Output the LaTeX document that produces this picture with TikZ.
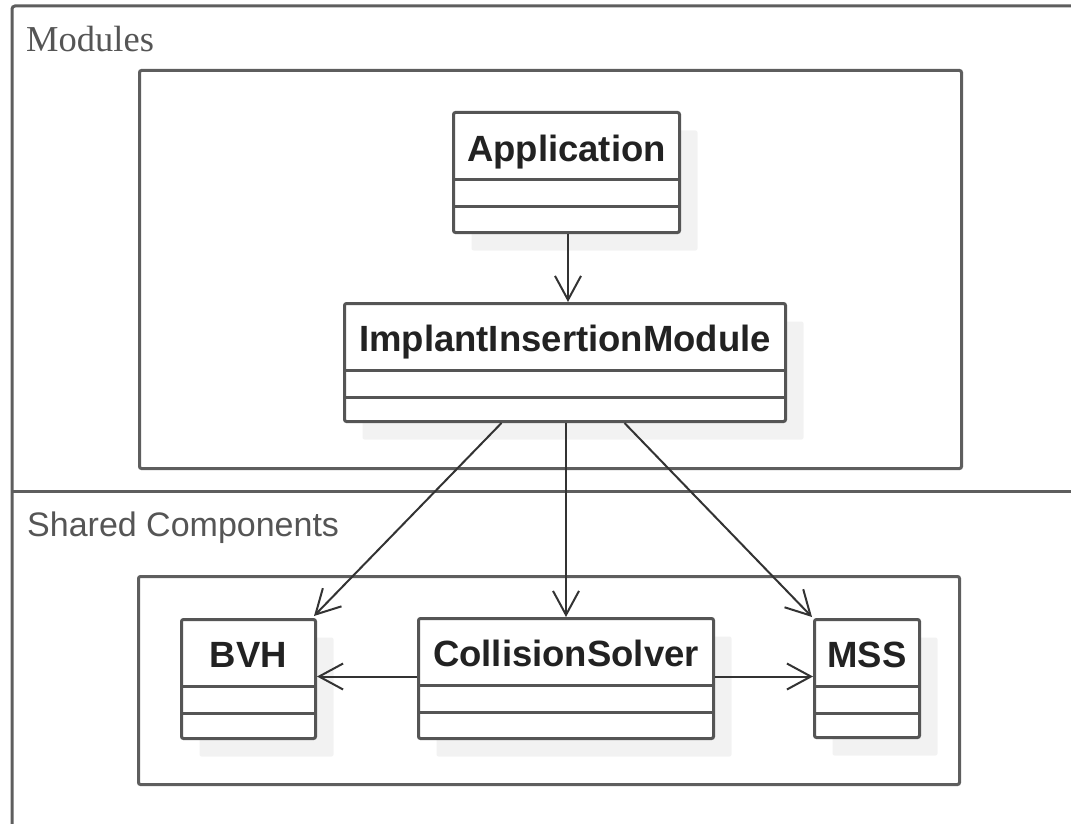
\documentclass[tikz,border=0pt]{standalone}
\usepackage{fontspec}
\setmainfont{Liberation Serif}
\newfontfamily\clsfont{Liberation Sans}
\usetikzlibrary{arrows.meta,shadows}
\definecolor{framec}{HTML}{5E5E5E}
\definecolor{boxline}{HTML}{555555}
\definecolor{connc}{HTML}{333333}
\definecolor{shadec}{HTML}{F2F2F2}
\definecolor{lblc}{HTML}{555555}
\definecolor{titlec}{HTML}{222222}
\begin{document}
\begin{tikzpicture}[x=1pt,y=-1pt,
  groupbox/.style={draw=framec,line width=3pt,rounded corners=2pt,inner sep=0pt,anchor=north west},
  cls/.style={draw=boxline,line width=3pt,fill=white,rounded corners=2pt,inner sep=0pt,anchor=north west,
    drop shadow={shadow xshift=18pt,shadow yshift=-18pt,fill=shadec,opacity=1}},
  sepline/.style={draw=boxline,line width=3pt},
  clstitle/.style={font=\clsfont\bfseries\fontsize{36.5}{40}\selectfont,text=titlec,anchor=base,inner sep=0pt},
  grplabel/.style={text=lblc,anchor=base west,inner sep=0pt},
  dep/.style={draw=connc,line width=2pt,-{Straight Barb[length=24pt,width=26pt]}}
]
\useasboundingbox (0,0) rectangle (1071,824);
\begin{scope}
\clip (0,0) rectangle (1071,824);
% outer frame
\draw[framec,line width=3pt,rounded corners=3pt] (12,840) -- (12,6) -- (1090,6);
\draw[framec,line width=3pt] (12,491) -- (1090,491);
\end{scope}
\node[grplabel,font=\fontsize{36.5}{40}\selectfont] (modlbl) at (26,52) {Modules};
\node[grplabel,font=\clsfont\fontsize{34}{40}\selectfont] (sharedlbl) at (27,536) {Shared Components};

% group boxes
\node[groupbox,minimum width=822pt,minimum height=398pt] (modbox) at (138,69) {};
\node[groupbox,minimum width=821pt,minimum height=208pt] (sharedbox) at (137,575) {};

% classes
\node[cls,minimum width=226pt,minimum height=120pt] (app) at (452,111) {};
\node[cls,minimum width=441pt,minimum height=118pt] (iim) at (343,302) {};
\node[cls,minimum width=134pt,minimum height=119pt] (bvh) at (180,618) {};
\node[cls,minimum width=295pt,minimum height=120pt] (cs) at (417,617) {};
\node[cls,minimum width=105pt,minimum height=118pt] (mss) at (813,618) {};

\foreach \n in {app,iim,bvh,cs,mss}{
  \draw[sepline] ([yshift=-68pt]\n.north west) -- ([yshift=-68pt]\n.north east);
  \draw[sepline] ([yshift=-95pt]\n.north west) -- ([yshift=-95pt]\n.north east);
}

\node[clstitle] (apptitle) at ([yshift=-50pt]app.north) {Application};
\node[clstitle] (iimtitle) at ([yshift=-49pt]iim.north) {ImplantInsertionModule};
\node[clstitle] (bvhtitle) at ([yshift=-49pt]bvh.north) {BVH};
\node[clstitle] (cstitle) at ([yshift=-49pt]cs.north) {CollisionSolver};
\node[clstitle] (msstitle) at ([yshift=-49pt]mss.north) {MSS};

% connectors
\draw[dep] ([xshift=1.5pt]app.south) -- ([xshift=1.5pt]app.south |- iim.north);
\draw[dep] ([xshift=-63.5pt]iim.south) -- ([xshift=-3pt,yshift=2pt]bvh.north east);
\draw[dep] (iim.south -| cs.north) -- (cs.north);
\draw[dep] ([xshift=59.5pt]iim.south) -- ([xshift=-1pt,yshift=1pt]mss.north west);
\draw[dep] ([yshift=2pt]cs.west) -- ([yshift=2pt]cs.west -| bvh.east);
\draw[dep] ([yshift=2pt]cs.east) -- ([yshift=2pt]cs.east -| mss.west);
\end{tikzpicture}
\end{document}
